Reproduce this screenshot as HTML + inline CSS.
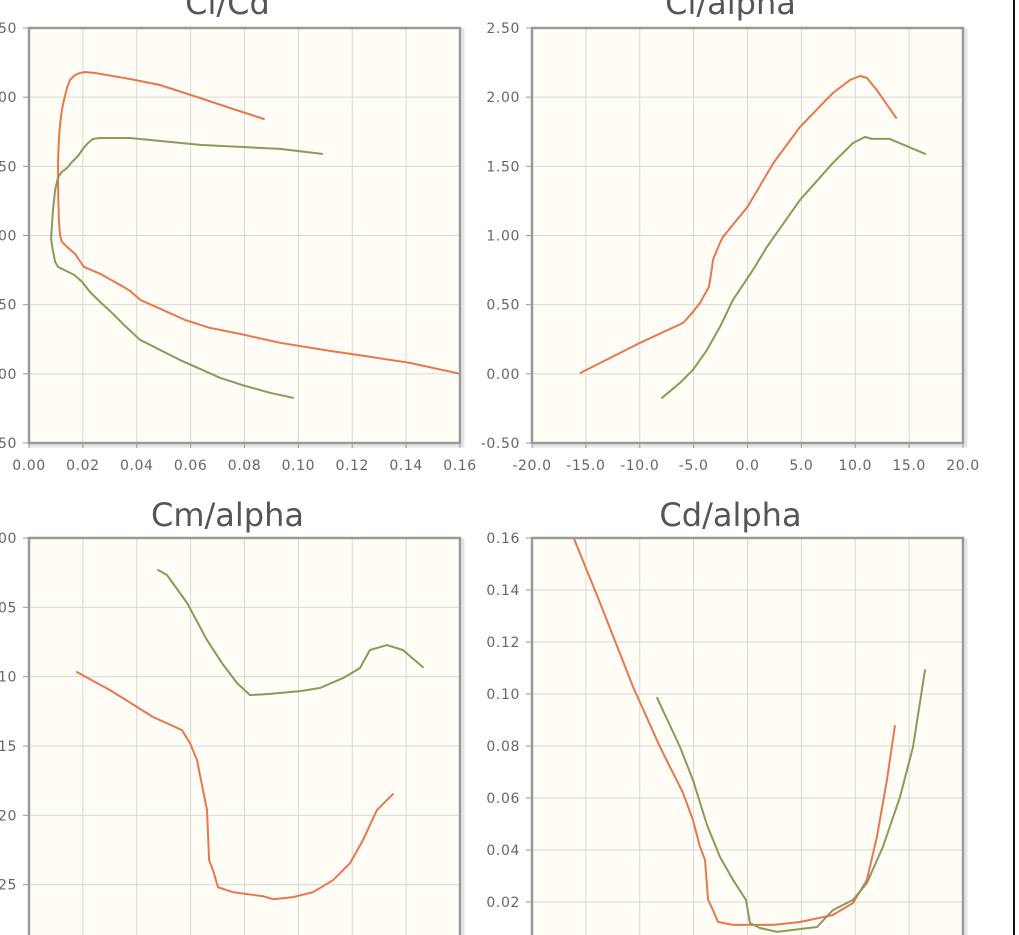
<!DOCTYPE html>
<html><head><meta charset="utf-8"><style>
html,body{margin:0;padding:0;background:#fff;width:1019px;height:935px;overflow:hidden}
svg{display:block}
text{font-family:"DejaVu Sans","Liberation Sans",sans-serif}
</style></head><body>
<svg id="chart" width="1019" height="935" xmlns="http://www.w3.org/2000/svg">
<line x1="1014" y1="0" x2="1014" y2="935" stroke="#111" stroke-width="2"/>
</svg>
<script>
// Cl/Cd
const clcdRedCd=[.0872,.0746,.0635,.0486,.0375,.0245,.0208,.0189,.0171,.0152,.0141,.0130,.0122,.0115,.0111,.0108,.0108,.0111,.0115,.0122,.0145,.0171,.0189,.0204,.0264,.0338,.0375,.0412,.0505,.0579,.0672,.0783,.0932,.1117,.1266,.1414,.160];
const clcdRedCl=[1.842,1.922,1.994,2.088,2.131,2.175,2.182,2.175,2.160,2.124,2.066,1.980,1.908,1.799,1.691,1.546,1.329,1.113,1.004,.954,.910,.867,.816,.773,.723,.643,.600,.535,.455,.390,.332,.289,.224,.166,.123,.079,0];
const clcdGreenCd=[.1088,.0932,.0635,.0375,.0301,.0264,.0238,.0219,.0200,.0182,.0160,.0141,.0122,.0108,.0097,.0089,.0082,.0085,.0097,.0108,.0122,.0145,.0167,.0197,.0226,.0264,.0312,.0356,.0412,.0457,.0486,.0560,.0635,.0709,.0802,.0895,.0980];
const clcdGreenCl=[1.590,1.626,1.655,1.705,1.705,1.705,1.698,1.669,1.626,1.575,1.532,1.488,1.460,1.423,1.329,1.185,.983,.932,.809,.773,.759,.737,.715,.665,.592,.520,.434,.347,.246,.202,.173,.101,.036,-.029,-.087,-.137,-.173];
// Cl/alpha
const clRedAlpha=[-15.5,-9.97,-5.98,-5.06,-4.41,-3.57,-3.29,-3.20,-2.55,-2.27,0,2.41,4.87,7.93,9.51,10.44,11.08,12.0,13.8];
const clRedCl=[.007,.224,.368,.448,.513,.629,.773,.824,.947,.990,1.207,1.525,1.785,2.030,2.124,2.153,2.139,2.052,1.850];
const clGreenAlpha=[-7.93,-6.26,-5.06,-3.76,-2.55,-1.35,.51,1.81,4.87,7.93,9.79,10.9,11.55,13.2,16.5];
const clGreenCl=[-.173,-.065,.029,.173,.340,.535,.751,.918,1.257,1.525,1.669,1.712,1.698,1.698,1.590];
// Cm/alpha
const cmRedAlpha=[-15.54,-12.48,-8.49,-5.80,-5.06,-4.41,-3.85,-3.48,-3.29,-2.92,-2.46,-1.07,1.72,2.64,4.50,6.35,8.21,9.79,10.99,12.29,13.78];
const cmRedCm=[-.0967,-.1097,-.1291,-.1385,-.1479,-.1602,-.1818,-.1962,-.2323,-.2395,-.2518,-.2554,-.2583,-.2605,-.2590,-.2554,-.2468,-.2345,-.2179,-.1962,-.1847];
const cmGreenAlpha=[-8.02,-7.19,-5.33,-3.48,-2.09,-.70,.51,2.09,5.15,7.00,9.14,10.71,11.64,13.22,14.70,16.56];
const cmGreenCm=[-.0231,-.0267,-.0469,-.0736,-.0902,-.1046,-.1133,-.1126,-.1104,-.1082,-.1010,-.0938,-.0808,-.0772,-.0808,-.0931];
// Cd/alpha
const cdRedAlpha=[-16.09,-13.68,-10.62,-8.12,-5.98,-5.06,-4.41,-3.94,-3.66,-3.20,-2.74,-1.35,2.37,4.87,7.93,9.79,11.08,12.01,12.94,13.68];
const cdRedCd=[.1596,.1350,.1027,.0796,.0619,.0515,.0412,.0362,.0208,.0169,.0123,.0112,.0112,.0123,.0150,.0196,.0285,.0450,.0669,.0877];
const cdGreenAlpha=[-8.39,-6.26,-5.06,-3.76,-2.55,-1.35,-.14,.23,1.16,2.74,6.45,7.93,9.79,11.08,12.57,14.15,15.36,16.47];
const cdGreenCd=[.0985,.0796,.0669,.0496,.0373,.0285,.0208,.0119,.0100,.0085,.0104,.0169,.0208,.0273,.0412,.0604,.0796,.1092];
// tick labels
const clcdXTicks=["0.00","0.02","0.04","0.06","0.08","0.10","0.12","0.14","0.16"];
const clYTicks=["2.50","2.00","1.50","1.00","0.50","0.00","-0.50"];
const alphaXTicks=["-20.0","-15.0","-10.0","-5.0","0.0","5.0","10.0","15.0","20.0"];
const cmYTicks=["0.00","-0.05","-0.10","-0.15","-0.20","-0.25","-0.30"];
const cdYTicks=["0.16","0.14","0.12","0.10","0.08","0.06","0.04","0.02","0.00"];

const svg=document.getElementById('chart');
const NS='http://www.w3.org/2000/svg';
function mk(tag,attrs,parent){const e=document.createElementNS(NS,tag);for(const k in attrs)e.setAttribute(k,attrs[k]);(parent||svg).appendChild(e);return e;}
const RED='#e8774e',GREEN='#8b9a5a';

function panel(name,title,x0,y0,w,h,xmin,xmax,ymin,ymax,xt,yt,titleY,series){
  const g=mk('g',{});
  
  
  const sx=v=>x0+(v-xmin)/(xmax-xmin)*w;
  const sy=v=>y0+h-(v-ymin)/(ymax-ymin)*h;
  const sh=mk('rect',{x:x0+2,y:y0+2,width:w+1,height:h+1,fill:'none',stroke:'#e4e4e4','stroke-width':3},g);
  
  
  const bg=mk('rect',{x:x0,y:y0,width:w,height:h,fill:'#fffdf6'},g);
  
  
  xt.forEach((t,i)=>{
    const v=xmin+i*(xmax-xmin)/(xt.length-1);const x=sx(v);
    const l=mk('line',{x1:x,y1:y0,x2:x,y2:y0+h,stroke:'#d8d8d8','stroke-width':1},g);
    
    
    if(y0+h<935){
      mk('line',{x1:x,y1:y0+h,x2:x,y2:y0+h+5,stroke:'#999','stroke-width':1},g);
      const tx=mk('text',{x:x,y:y0+h+27,'text-anchor':'middle','font-size':14,'letter-spacing':0.6,fill:'#666'},g);
      tx.textContent=t;
      
      
    }
  });
  yt.forEach((t,i)=>{
    const v=ymax-i*(ymax-ymin)/(yt.length-1);const y=sy(v);
    const l=mk('line',{x1:x0,y1:y,x2:x0+w,y2:y,stroke:'#d8d8d8','stroke-width':1},g);
    
    
    mk('line',{x1:x0-6,y1:y,x2:x0,y2:y,stroke:'#999','stroke-width':1},g);
    const tx=mk('text',{x:x0-12,y:y+5,'text-anchor':'end','font-size':14,'letter-spacing':0.6,fill:'#666'},g);
    tx.textContent=t;
    
    
  });
  series.forEach(s=>{
    const d=s.xs.map((v,i)=>(i?'L':'M')+sx(v).toFixed(1)+','+sy(s.ys[i]).toFixed(1)).join(' ');
    const p=mk('path',{d:d,fill:'none',stroke:s.c,'stroke-width':2,'stroke-linejoin':'round','stroke-linecap':'round'},g);
    
    
  });
  const b=mk('rect',{x:x0,y:y0,width:w,height:h,fill:'none',stroke:'#999','stroke-width':2.5},g);
  
  
  const tt=mk('text',{x:x0+w/2-17,y:titleY,'text-anchor':'middle','font-size':32,fill:'#555'},g);
  tt.textContent=title;
  
  
}
panel('cl-cd-chart','Cl/Cd',29,28,431,415,0,0.16,-0.5,2.5,clcdXTicks,clYTicks,14,
  [{xs:clcdRedCd,ys:clcdRedCl,c:RED,n:'series-red'},{xs:clcdGreenCd,ys:clcdGreenCl,c:GREEN,n:'series-green'}]);
panel('cl-alpha-chart','Cl/alpha',532,28,431,415,-20,20,-0.5,2.5,alphaXTicks,clYTicks,14,
  [{xs:clRedAlpha,ys:clRedCl,c:RED,n:'series-red'},{xs:clGreenAlpha,ys:clGreenCl,c:GREEN,n:'series-green'}]);
panel('cm-alpha-chart','Cm/alpha',29,538,431,416,-20,20,-0.30,0,alphaXTicks,cmYTicks,526,
  [{xs:cmRedAlpha,ys:cmRedCm,c:RED,n:'series-red'},{xs:cmGreenAlpha,ys:cmGreenCm,c:GREEN,n:'series-green'}]);
panel('cd-alpha-chart','Cd/alpha',532,538,431,416,-20,20,0,0.16,alphaXTicks,cdYTicks,526,
  [{xs:cdRedAlpha,ys:cdRedCd,c:RED,n:'series-red'},{xs:cdGreenAlpha,ys:cdGreenCd,c:GREEN,n:'series-green'}]);
</script>
</body></html>
